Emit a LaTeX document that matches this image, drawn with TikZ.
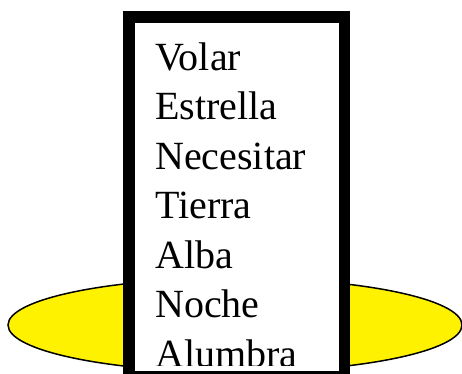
\documentclass[tikz,border=0pt]{standalone}
\usepackage{fontspec}
\setmainfont{Liberation Serif}
\begin{document}
\begin{tikzpicture}[x=1pt,y=-1pt,
  word/.style={anchor=base west,inner sep=0pt,font=\fontsize{40}{40}\selectfont},
  disc/.style={draw=black,line width=1.5pt,fill=yellow},
  listbox/.style={draw=black,line width=11.5pt,fill=white}]
\useasboundingbox (0,0) rectangle (462,373);
\fill[white] (0,0) rectangle (462,373);
\clip (0,0) rectangle (462,373);
\path[disc] (235,325) ellipse [x radius=227, y radius=47];
\path[listbox] (128.75,16.75) rectangle (344.25,376.5);
\begin{scope}
\clip (134.5,22.5) rectangle (338.5,365);
\node[word] (w1) at (155,70) {Volar};
\node[word] (w2) at (155,119.5) {Estrella};
\node[word] (w3) at (155,169) {Necesitar};
\node[word] (w4) at (155,218.5) {Tierra};
\node[word] (w5) at (155,268) {Alba};
\node[word] (w6) at (155,317.5) {Noche};
\node[word] (w7) at (155,367) {Alumbra};
\end{scope}
\end{tikzpicture}
\end{document}
